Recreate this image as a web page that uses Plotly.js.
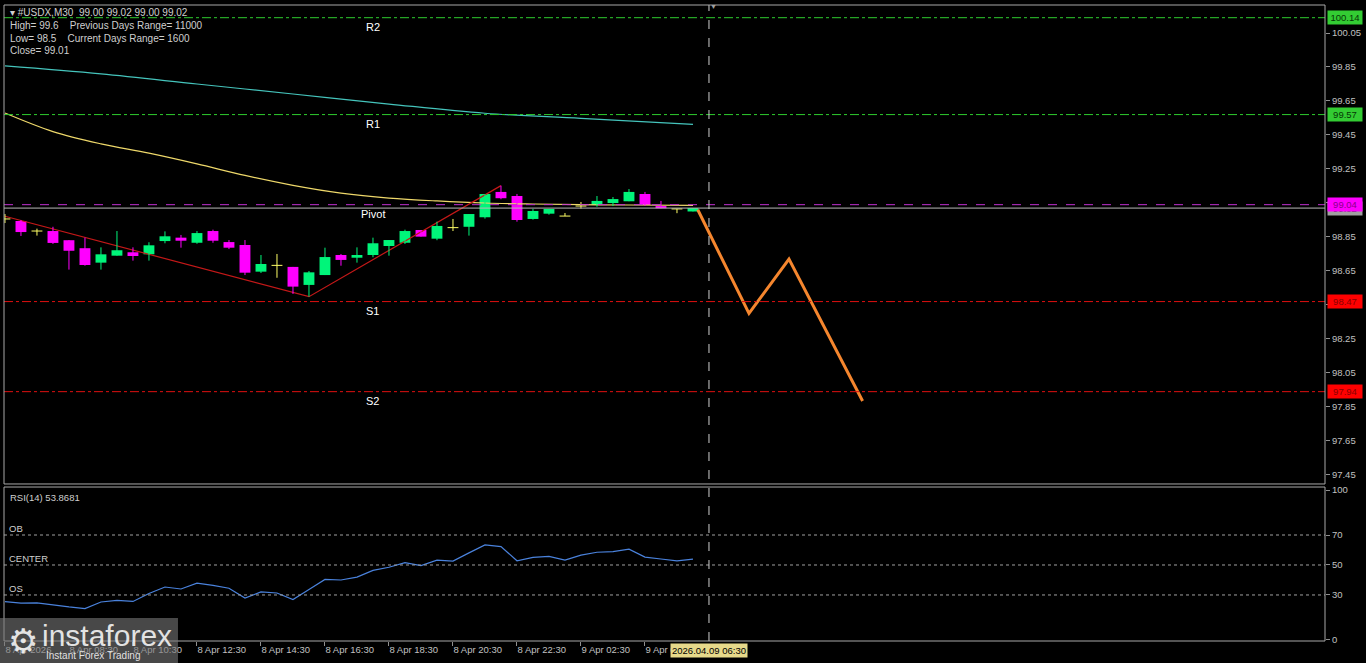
<!DOCTYPE html>
<html><head><meta charset="utf-8">
<script src="https://cdn.plot.ly/plotly-3.0.1.min.js"></script>
<style>html,body{margin:0;padding:0;background:#000;overflow:hidden}#chart{width:1366px;height:663px}</style>
</head><body><div id="chart"></div>
<script>
// ---- Data (USDX M30) ----
const barOpen  = [98.956,98.944,98.885,98.885,98.831,98.784,98.699,98.740,98.760,98.748,98.826,98.846,98.816,98.885,98.820,98.803,98.646,98.683,98.674,98.568,98.626,98.744,98.728,98.744,98.797,98.816,98.891,98.840,98.905,98.910,98.966,99.115,99.091,98.956,98.987,98.973,99.032,99.038,99.050,99.060,99.103,99.032,99.015,99.000];
const barHigh  = [98.985,98.950,98.899,98.910,98.832,98.846,98.789,98.885,98.789,98.819,98.883,98.862,98.885,98.893,98.832,98.832,98.744,98.750,98.674,98.650,98.787,98.750,98.789,98.846,98.832,98.893,98.891,98.940,98.956,98.985,99.103,99.152,99.103,99.015,99.015,98.991,99.056,99.091,99.085,99.132,99.115,99.062,99.015,99.020];
const barLow   = [98.932,98.856,98.858,98.809,98.658,98.681,98.658,98.740,98.711,98.711,98.813,98.787,98.810,98.816,98.779,98.626,98.638,98.610,98.515,98.499,98.626,98.681,98.699,98.731,98.740,98.809,98.852,98.831,98.885,98.858,98.958,99.072,98.940,98.952,98.981,98.973,99.017,99.028,99.032,99.060,99.032,99.019,98.990,99.000];
const barClose = [98.956,98.879,98.885,98.815,98.769,98.685,98.748,98.772,98.738,98.801,98.854,98.828,98.873,98.828,98.787,98.640,98.691,98.683,98.558,98.642,98.732,98.715,98.744,98.813,98.832,98.885,98.852,98.915,98.905,98.985,99.103,99.078,98.950,99.003,99.015,98.973,99.032,99.062,99.073,99.115,99.038,99.019,99.015,99.020];
const rsiValues = [25.5,24.5,24.7,23.2,22.0,20.9,25.3,26.4,25.7,31.0,35.3,34.0,37.9,36.4,34.5,27.9,32.1,31.3,27.0,33.6,40.4,40.0,41.9,46.4,48.5,51.5,49.6,53.2,52.6,58.1,63.4,62.3,52.8,55.1,55.7,53.2,56.6,58.5,58.9,60.6,55.3,54.0,52.8,53.8681];

const maFastIdx = [0,3,6,9,12,15,18,21,24,27,30,33,36,39,43];
const maFastVal = [99.579,99.470,99.398,99.343,99.280,99.212,99.154,99.108,99.079,99.062,99.050,99.044,99.040,99.038,99.036];
const maSlowIdx = [0,6,12,18,24,30,36,43];
const maSlowVal = [99.856,99.809,99.750,99.691,99.632,99.578,99.548,99.512];

const zigzagIdx = [0,19,31];
const zigzagVal = [98.972,98.499,99.152];

const forecastIdx = [43.3,46.5,49.0,53.6];
const forecastVal = [99.010,98.400,98.720,97.885];

const levelNames = ["R2","R1","Pivot","S1","S2"];
const levelVals  = [100.14,99.57,99.04,98.47,97.94];
const bidPrice = 99.02;
const nowIdx = 44;
const nowLabel = "2026.04.09 06:30";

const tickIdx  = [0,4,8,12,16,20,24,28,32,36,40];
const tickText = ["8 Apr 2026","8 Apr 08:30","8 Apr 10:30","8 Apr 12:30","8 Apr 14:30","8 Apr 16:30","8 Apr 18:30","8 Apr 20:30","8 Apr 22:30","9 Apr 02:30","9 Apr 04:30"];
const priceTicks = [97.45,97.65,97.85,98.05,98.25,98.45,98.65,98.85,99.05,99.25,99.45,99.65,99.85,100.05];
const rsiTicks = [0,30,50,70,100];
const rsiLevels = [70,50,30];
const rsiLevelNames = ["OB","CENTER","OS"];

const headerLines = [
  "\u25BE #USDX,M30\u00a0\u00a099.00 99.02 99.00 99.02",
  "High= 99.6\u00a0\u00a0\u00a0\u00a0Previous Days Range= 11000",
  "Low= 98.5\u00a0\u00a0\u00a0\u00a0Current Days Range= 1600",
  "Close= 99.01"
];

// ---- Colours ----
const UP = '#00f57a', DOWN = '#ff00ff', DOJI = '#ffff66';
const FONT = 'Liberation Sans, Arial, sans-serif';

// ---- Build candle traces ----
const n = barOpen.length;
const bodyX = [], bodyBase = [], bodyH = [], bodyC = [];
const wick = {up:{x:[],y:[]}, down:{x:[],y:[]}, doji:{x:[],y:[]}};
const dojiTick = {x:[],y:[]};
for (let i = 0; i < n; i++) {
  const o = barOpen[i], c = barClose[i];
  const kind = c > o ? 'up' : (c < o ? 'down' : 'doji');
  wick[kind].x.push(i, i, null);
  wick[kind].y.push(barLow[i], barHigh[i], null);
  if (kind === 'doji') {
    dojiTick.x.push(i - 0.34, i + 0.34, null);
    dojiTick.y.push(o, o, null);
  } else {
    bodyX.push(i);
    bodyBase.push(Math.min(o, c));
    bodyH.push(Math.abs(c - o));
    bodyC.push(kind === 'up' ? UP : DOWN);
  }
}

const traces = [
  {type:'scatter', mode:'lines', x:maSlowIdx, y:maSlowVal, line:{color:'#45c4bc', width:1.2, shape:'spline'}, hoverinfo:'skip'},
  {type:'scatter', mode:'lines', x:maFastIdx, y:maFastVal, line:{color:'#eed86a', width:1.2, shape:'spline'}, hoverinfo:'skip'},
  {type:'scatter', mode:'lines', x:zigzagIdx, y:zigzagVal, line:{color:'#c41818', width:1.2}, hoverinfo:'skip'},
  {type:'scatter', mode:'lines', x:wick.up.x, y:wick.up.y, line:{color:UP, width:1}, hoverinfo:'skip'},
  {type:'scatter', mode:'lines', x:wick.down.x, y:wick.down.y, line:{color:DOWN, width:1}, hoverinfo:'skip'},
  {type:'scatter', mode:'lines', x:wick.doji.x, y:wick.doji.y, line:{color:DOJI, width:1}, hoverinfo:'skip'},
  {type:'scatter', mode:'lines', x:dojiTick.x, y:dojiTick.y, line:{color:DOJI, width:1}, hoverinfo:'skip'},
  {type:'bar', x:bodyX, y:bodyH, base:bodyBase, width:0.68, marker:{color:bodyC, line:{width:0}}, hoverinfo:'skip'},
  {type:'scatter', mode:'lines', x:forecastIdx, y:forecastVal, line:{color:'#f5862e', width:3}, hoverinfo:'skip'},
  {type:'scatter', mode:'lines', x:barOpen.map((_, i) => i), y:rsiValues, yaxis:'y2', line:{color:'#4a82dc', width:1.2}, hoverinfo:'skip'}
];

// ---- Shapes ----
const mainBottom = 0.2469, rsiTop = 0.2421;
const shapes = [];
const levelStyle = [
  {color:'#2ecc2e', dash:'dashdot'},
  {color:'#2ecc2e', dash:'dashdot'},
  {color:'#c030d0', dash:'dash'},
  {color:'#e01010', dash:'dashdot'},
  {color:'#e01010', dash:'dashdot'}
];
levelVals.forEach((v, k) => shapes.push({type:'line', xref:'paper', yref:'y', x0:0, x1:1, y0:v, y1:v, line:{color:levelStyle[k].color, width:1, dash:levelStyle[k].dash}}));
shapes.push({type:'line', xref:'paper', yref:'y', x0:0, x1:1, y0:bidPrice, y1:bidPrice, line:{color:'#b8b8b8', width:1}});
rsiLevels.forEach(v => shapes.push({type:'line', xref:'paper', yref:'y2', x0:0, x1:1, y0:v, y1:v, line:{color:'#a0a0a0', width:1, dash:'dot'}}));
shapes.push({type:'line', xref:'x', yref:'paper', x0:nowIdx, x1:nowIdx, y0:0, y1:1, line:{color:'#d0d0d0', width:1, dash:'dash'}});
// panel frames
shapes.push({type:'rect', xref:'paper', yref:'paper', x0:0, x1:1, y0:mainBottom, y1:1, line:{color:'#a8a8a8', width:1}});
shapes.push({type:'rect', xref:'paper', yref:'paper', x0:0, x1:1, y0:0, y1:rsiTop, line:{color:'#a8a8a8', width:1}});
// logo box
shapes.push({type:'rect', xref:'paper', yref:'paper', x0:-0.004, x1:0.1317, y0:-0.036, y1:0.0362, fillcolor:'rgba(120,120,120,0.6)', line:{width:0}, layer:'above'});

// ---- Annotations ----
const annotations = [];
headerLines.forEach((t, k) => annotations.push({xref:'paper', yref:'paper', x:0, y:[0.988,0.967,0.948,0.929][k], xanchor:'left', yanchor:'middle', xshift:4, text:t, showarrow:false, font:{family:FONT, size:10, color:'#cfcfcf'}}));
levelNames.forEach((t, k) => annotations.push({xref:'x', yref:'y', x:23, y:levelVals[k], xanchor:'center', yanchor:'top', yshift:-1, text:t, showarrow:false, font:{family:FONT, size:11, color:'#ffffff'}}));
// right price labels
annotations.push({xref:'paper', yref:'y', x:1, y:bidPrice, xanchor:'left', yanchor:'middle', xshift:2, text:bidPrice.toFixed(2), showarrow:false, bgcolor:'#a0a0a0', borderpad:1, width:32, font:{family:FONT, size:9.5, color:'#404040'}});
const labelBg = ['#33cc33','#33cc33','#ff00ff','#ff0000','#ff0000'];
const labelFg = ['#063806','#063806','#8a008a','#8a0000','#8a0000'];
levelVals.forEach((v, k) => annotations.push({xref:'paper', yref:'y', x:1, y:v, xanchor:'left', yanchor:'middle', xshift:2, text:v.toFixed(2), showarrow:false, bgcolor:labelBg[k], borderpad:1, width:32, font:{family:FONT, size:9.5, color:labelFg[k]}}));
// RSI texts
annotations.push({xref:'paper', yref:'paper', x:0, y:0.226, xanchor:'left', yanchor:'middle', xshift:4, text:'RSI(14) ' + rsiValues[rsiValues.length-1].toFixed(4), showarrow:false, font:{family:FONT, size:9.5, color:'#cfcfcf'}});
rsiLevels.forEach((v, k) => annotations.push({xref:'paper', yref:'y2', x:0, y:v, xanchor:'left', yanchor:'bottom', xshift:3, yshift:-1, text:rsiLevelNames[k], showarrow:false, font:{family:FONT, size:9.5, color:'#cfcfcf'}}));
// time box
annotations.push({xref:'x', yref:'paper', x:nowIdx, y:-0.0157, xanchor:'center', yanchor:'middle', text:nowLabel, showarrow:false, bgcolor:'#e6d98a', borderpad:1, font:{family:FONT, size:9.5, color:'#000000'}});
annotations.push({xref:'x', yref:'paper', x:nowIdx + 0.3, y:1, xanchor:'center', yanchor:'middle', yshift:-1, text:'\u25BC', showarrow:false, font:{family:FONT, size:7, color:'#a0a0a0'}});
// logo
annotations.push({xref:'paper', yref:'paper', x:0, y:0.0, xanchor:'left', yanchor:'middle', xshift:2, text:'\u2699', showarrow:false, font:{family:'DejaVu Sans', size:34, color:'rgba(255,255,255,0.85)'}});
annotations.push({xref:'paper', yref:'paper', x:0.027, y:0.008, xanchor:'left', yanchor:'middle', text:'instaforex', showarrow:false, font:{family:FONT, size:30, color:'rgba(255,255,255,0.85)'}});
annotations.push({xref:'paper', yref:'paper', x:0.03, y:-0.0225, xanchor:'left', yanchor:'middle', text:'Instant Forex Trading', showarrow:false, font:{family:FONT, size:10, color:'rgba(255,255,255,0.85)'}});

const layout = {
  width:1366, height:663,
  paper_bgcolor:'#000', plot_bgcolor:'#000',
  margin:{l:4, r:41, t:5, b:22},
  showlegend:false,
  font:{family:FONT, color:'#c0c0c0', size:9.5},
  xaxis:{range:[-0.06,82.5], anchor:'y2', domain:[0,1], tickvals:tickIdx, ticktext:tickText, ticks:'outside', ticklen:4, tickcolor:'#909090', ticklabelposition:'outside right', showgrid:false, zeroline:false, showline:false, fixedrange:true, tickfont:{family:FONT, size:9.5, color:'#c0c0c0'}},
  yaxis:{domain:[mainBottom,1], range:[97.397,100.2147], side:'right', anchor:'x', tickvals:priceTicks, ticktext:priceTicks.map(v => v.toFixed(2)), ticks:'outside', ticklen:4, tickcolor:'#909090', showgrid:false, zeroline:false, showline:false, tickfont:{family:FONT, size:9.5, color:'#c0c0c0'}},
  yaxis2:{domain:[0,rsiTop], range:[-0.7,102], side:'right', anchor:'x', tickvals:rsiTicks, ticks:'outside', ticklen:4, tickcolor:'#909090', showgrid:false, zeroline:false, showline:false, tickfont:{family:FONT, size:9.5, color:'#c0c0c0'}},
  shapes:shapes,
  annotations:annotations
};

Plotly.newPlot('chart', traces, layout, {displayModeBar:false, staticPlot:true});
</script>
</body></html>
